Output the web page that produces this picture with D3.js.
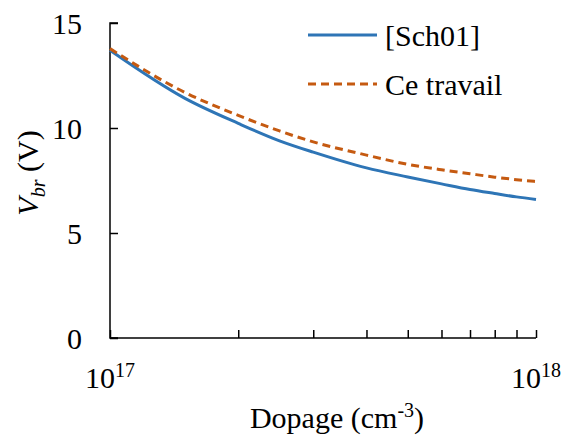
<!DOCTYPE html>
<html>
<head>
<meta charset="utf-8">
<script src="https://cdn.jsdelivr.net/npm/d3@7"></script>
<style>
  body { margin: 0; background: #fff; font-family: "Times New Roman", "Liberation Serif", serif; }
  svg text { font-family: "Times New Roman", "Liberation Serif", serif; }
</style>
</head>
<body>
<svg id="chart" width="561" height="435" font-family="Liberation Serif, Times New Roman, serif"></svg>
<script>
// doping levels (cm-3) and breakdown voltages
var dopage = [1e17, 1.5e17, 2e17, 2.5e17, 3e17, 4e17, 5e17, 6e17, 7e17, 8e17, 9e17, 1e18];
var vbrSch01 = [13.70, 11.41, 10.22, 9.39, 8.85, 8.10, 7.67, 7.34, 7.07, 6.88, 6.72, 6.60];
var vbrTravail = [13.78, 11.69, 10.60, 9.86, 9.34, 8.71, 8.27, 8.01, 7.82, 7.66, 7.54, 7.45];
var yTicks = [0, 5, 10, 15];
var seriesNames = ["[Sch01]", "Ce travail"];
var colors = ["#2E75B6", "#C55A11"];

var margin = {"left": 110, "right": 25, "top": 23, "bottom": 97};
var width = 561, height = 435;

var svg = d3.select("#chart");

var x = d3.scaleLog()
          .domain([1e17, 1e18])
          .range([margin.left, width - margin.right]);

var y = d3.scaleLinear()
          .domain([0, 15])
          .range([height - margin.bottom, margin.top]);

// y axis, ticks pointing inside
var yAxis = d3.axisRight(y).tickValues(yTicks).tickSize(8).tickFormat("");
svg.append("g")
   .attr("transform", "translate(" + margin.left + ",0)")
   .call(yAxis)
   .call(function(g) {
     g.select(".domain").attr("d", "M8," + y(15) + "H0V" + y(0) + "H8");
   });

// x axis, log ticks at 1..10 x 1e17 pointing up
var xTicks = d3.range(1, 11).map(function(k) { return k * 1e17; });
var xAxis = d3.axisTop(x).tickValues(xTicks).tickSize(8).tickFormat("");
svg.append("g")
   .attr("transform", "translate(0," + y(0) + ")")
   .call(xAxis)
   .call(function(g) {
     g.select(".domain").attr("d", "M" + x(1e17) + ",0H" + x(1e18));
   });

svg.selectAll(".domain, .tick line")
   .attr("stroke", "#000")
   .attr("stroke-width", 1.5);

function label(sel) {
  return sel.attr("font-size", 30).attr("fill", "#000");
}

label(svg.selectAll(".ylab")
   .data(yTicks)
   .enter().append("text")
   .attr("class", "ylab")
   .attr("x", 82)
   .attr("y", function(d) { return y(d); })
   .attr("dy", "0.35em")
   .attr("text-anchor", "end")
   .text(function(d) { return d; }));

// decade labels
[17, 18].forEach(function(p) {
  var t = label(svg.append("text")
             .attr("x", x(Math.pow(10, p)))
             .attr("y", 388)
             .attr("text-anchor", "middle"));
  t.append("tspan").text("10");
  t.append("tspan").attr("dy", "-11").attr("font-size", 20).text(p);
});

// x title
var xt = label(svg.append("text")
            .attr("x", 337)
            .attr("y", 428)
            .attr("text-anchor", "middle"));
xt.append("tspan").text("Dopage (cm");
xt.append("tspan").attr("dy", "-11").attr("font-size", 20).text("-3");
xt.append("tspan").attr("dy", "11").text(")");

// y title
var yt = label(svg.append("text")
            .attr("transform", "translate(38,173) rotate(-90)")
            .attr("text-anchor", "middle"));
yt.append("tspan").attr("font-style", "italic").text("V");
yt.append("tspan").attr("dy", "7").attr("font-size", 20).attr("font-style", "italic").text("br");
yt.append("tspan").attr("dy", "-7").text(" (V)");

// curves
var line = d3.line()
             .x(function(d) { return x(d[0]); })
             .y(function(d) { return y(d[1]); })
             .curve(d3.curveMonotoneX);

var series = [vbrSch01, vbrTravail];
series.forEach(function(vals, i) {
  svg.append("path")
     .datum(dopage.map(function(n, j) { return [n, vals[j]]; }))
     .attr("fill", "none")
     .attr("stroke", colors[i])
     .attr("stroke-width", 3)
     .attr("stroke-dasharray", i == 1 ? "8,5" : null)
     .attr("d", line);
});

// legend
seriesNames.forEach(function(name, i) {
  var ly = 35 + i * 49;
  svg.append("line")
     .attr("x1", 308).attr("x2", 377)
     .attr("y1", ly).attr("y2", ly)
     .attr("stroke", colors[i])
     .attr("stroke-width", 3)
     .attr("stroke-dasharray", i == 1 ? "8,5" : null);
  label(svg.append("text")
     .attr("x", 385)
     .attr("y", ly)
     .attr("dy", "0.35em")
     .text(name));
});
</script>
</body>
</html>
